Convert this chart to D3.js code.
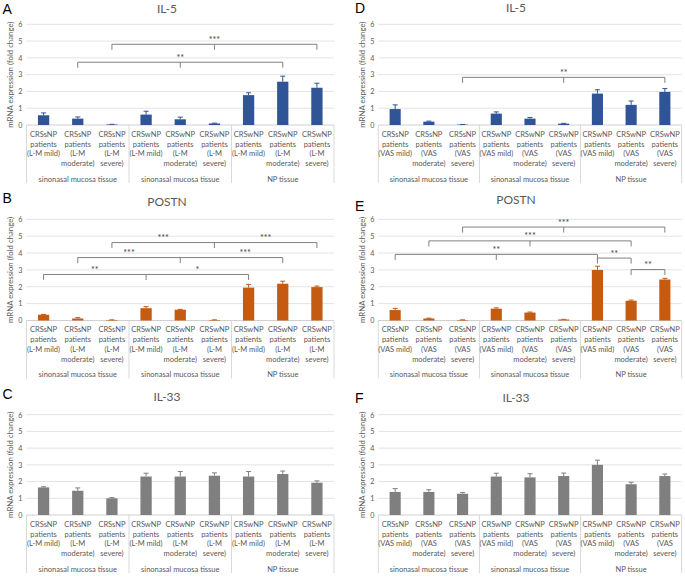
<!DOCTYPE html>
<html><head><meta charset="utf-8">
<script src="https://cdn.jsdelivr.net/npm/d3@7"></script>
<style>body{margin:0;background:#fff}svg{display:block}</style>
</head><body><svg id="c" width="685" height="577"></svg>
<script>
// ---------- data ----------
const lmCategories = [
  "CRSsNP\npatients\n(L-M mild)", "CRSsNP\npatients\n(L-M\nmoderate)", "CRSsNP\npatients\n(L-M\nsevere)",
  "CRSwNP\npatients\n(L-M mild)", "CRSwNP\npatients\n(L-M\nmoderate)", "CRSwNP\npatients\n(L-M\nsevere)",
  "CRSwNP\npatients\n(L-M mild)", "CRSwNP\npatients\n(L-M\nmoderate)", "CRSwNP\npatients\n(L-M\nsevere)"
];
const vasCategories = [
  "CRSsNP\npatients\n(VAS mild)", "CRSsNP\npatients\n(VAS\nmoderate)", "CRSsNP\npatients\n(VAS\nsevere)",
  "CRSwNP\npatients\n(VAS mild)", "CRSwNP\npatients\n(VAS\nmoderate)", "CRSwNP\npatients\n(VAS\nsevere)",
  "CRSwNP\npatients\n(VAS mild)", "CRSwNP\npatients\n(VAS\nmoderate)", "CRSwNP\npatients\n(VAS\nsevere)"
];
const groupLabels = ["sinonasal mucosa tissue", "sinonasal mucosa tissue", "NP tissue"];
const yTicks = [0, 1, 2, 3, 4, 5, 6];
const yAxisTitle = "mRNA expression (fold change)";

const valuesA = [0.58, 0.38, 0.03, 0.62, 0.34, 0.09, 1.78, 2.58, 2.22];
const errorsA = [0.14, 0.10, 0.01, 0.20, 0.13, 0.02, 0.14, 0.33, 0.27];
const valuesB = [0.34, 0.12, 0.03, 0.73, 0.64, 0.03, 1.95, 2.18, 1.98];
const errorsB = [0.02, 0.05, 0.01, 0.09, 0.02, 0.01, 0.19, 0.15, 0.06];
const valuesC = [1.65, 1.45, 1.00, 2.30, 2.30, 2.35, 2.30, 2.45, 1.93];
const errorsC = [0.04, 0.17, 0.04, 0.20, 0.30, 0.17, 0.30, 0.18, 0.11];
const valuesD = [0.95, 0.20, 0.02, 0.68, 0.38, 0.08, 1.87, 1.20, 1.97];
const errorsD = [0.25, 0.03, 0.01, 0.10, 0.07, 0.02, 0.23, 0.23, 0.20];
const valuesE = [0.62, 0.12, 0.03, 0.70, 0.47, 0.06, 3.00, 1.17, 2.43];
const errorsE = [0.10, 0.02, 0.01, 0.05, 0.03, 0.01, 0.22, 0.04, 0.07];
const valuesF = [1.38, 1.38, 1.27, 2.30, 2.25, 2.33, 3.00, 1.84, 2.33];
const errorsF = [0.20, 0.13, 0.07, 0.20, 0.22, 0.18, 0.28, 0.12, 0.12];

// significance brackets: categories joined, height in data units, labels at category positions
const bracketsA = [
  {cats: [1, 4, 7], level: 3.74, labels: [{at: 4, text: "**"}]},
  {cats: [2, 5, 8], level: 4.81, labels: [{at: 5, text: "***"}]}
];
const bracketsB = [
  {cats: [0, 3, 6], level: 2.73, labels: [{at: 1.5, text: "**"}, {at: 4.5, text: "*"}]},
  {cats: [1, 4, 7], level: 3.73, labels: [{at: 2.5, text: "***"}, {at: 5.9, text: "***"}]},
  {cats: [2, 5, 8], level: 4.62, labels: [{at: 3.5, text: "***"}, {at: 6.5, text: "***"}]}
];
const bracketsC = [];
const bracketsD = [
  {cats: [2, 5, 8], level: 2.84, labels: [{at: 5, text: "**"}]}
];
const bracketsE = [
  {cats: [0, 3, 6], level: 3.92, labels: [{at: 3, text: "**"}]},
  {cats: [1, 4, 7], level: 4.72, labels: [{at: 4, text: "***"}]},
  {cats: [2, 5, 8], level: 5.54, labels: [{at: 5, text: "***"}]},
  {cats: [6, 7], level: 3.70, labels: [{at: 6.5, text: "**"}]},
  {cats: [7, 8], level: 3.02, labels: [{at: 7.5, text: "**"}]}
];
const bracketsF = [];

const colorIL5 = "#2f5597", colorPOSTN = "#c55a11", colorIL33 = "#7f7f7f";

const panels = [
  {letter: "A", title: "IL-5",  cats: lmCategories,  values: valuesA, errors: errorsA, brackets: bracketsA, color: colorIL5,   col: 0, row: 0},
  {letter: "B", title: "POSTN", cats: lmCategories,  values: valuesB, errors: errorsB, brackets: bracketsB, color: colorPOSTN, col: 0, row: 1},
  {letter: "C", title: "IL-33", cats: lmCategories,  values: valuesC, errors: errorsC, brackets: bracketsC, color: colorIL33,  col: 0, row: 2},
  {letter: "D", title: "IL-5",  cats: vasCategories, values: valuesD, errors: errorsD, brackets: bracketsD, color: colorIL5,   col: 1, row: 0},
  {letter: "E", title: "POSTN", cats: vasCategories, values: valuesE, errors: errorsE, brackets: bracketsE, color: colorPOSTN, col: 1, row: 1},
  {letter: "F", title: "IL-33", cats: vasCategories, values: valuesF, errors: errorsF, brackets: bracketsF, color: colorIL33,  col: 1, row: 2}
];

// ---------- layout ----------
const cols = [
  {l: 26.5, r: 334, titleX: 167, yTitleX: 11.5, letterX: 2.5},
  {l: 378.3, r: 681.7, titleX: 516, yTitleX: 363.5, letterX: 355}
];
const rows = [
  {y6: 24.3, y0: 125},
  {y6: 219.3, y0: 320.5},
  {y6: 414.7, y0: 515}
];
const letterY = {A: 13.5, B: 203, C: 399, D: 13, E: 210.5, F: 402.5};
const titleY  = {A: 12.5, B: 206, C: 400.5, D: 12, E: 203.5, F: 401.5};

const FONT = "Lato, 'Open Sans', sans-serif";
const TXT = "#595959";
const svg = d3.select("#c");

panels.forEach(p => {
  const c = cols[p.col], r = rows[p.row];
  const g = svg.append("g");
  const x = d3.scaleBand().domain(d3.range(p.values.length)).range([c.l, c.r]).paddingInner(0).paddingOuter(0);
  const y = d3.scaleLinear().domain([0, 6]).range([r.y0, r.y6]);
  const bw = x.bandwidth();
  const cx = i => x(Math.floor(i)) + (i - Math.floor(i) + 0.5) * bw;

  // letter & title
  g.append("text").attr("x", c.letterX).attr("y", letterY[p.letter])
    .attr("font-family", "'Liberation Sans', Arial, sans-serif").attr("font-size", 14).attr("fill", "#000").text(p.letter);
  g.append("text").attr("x", c.titleX).attr("y", titleY[p.letter]).attr("text-anchor", "middle")
    .attr("font-family", FONT).attr("font-size", 12).attr("fill", TXT).text(p.title);

  // gridlines
  g.append("g").selectAll("line").data(yTicks.filter(t => t > 0)).join("line")
    .attr("x1", c.l).attr("x2", c.r).attr("y1", d => y(d)).attr("y2", d => y(d))
    .attr("stroke", "#e3e3e3").attr("stroke-width", 1);

  // y axis labels
  const yAxis = d3.axisLeft(y).tickValues(yTicks).tickSize(0).tickPadding(4).tickFormat(d3.format("d"));
  const ya = g.append("g").attr("transform", `translate(${c.l},0)`).call(yAxis);
  ya.select(".domain").remove();
  ya.selectAll("text").attr("font-family", FONT).attr("font-size", 7.2).attr("fill", TXT);

  // y axis title
  g.append("text").attr("transform", `translate(${c.yTitleX},${(r.y0 + r.y6) / 2}) rotate(-90)`)
    .attr("text-anchor", "middle").attr("dominant-baseline", "middle")
    .attr("font-family", FONT).attr("font-size", 7.8).attr("fill", TXT).text(yAxisTitle);

  // category axis line
  g.append("line").attr("x1", c.l).attr("x2", c.r).attr("y1", r.y0).attr("y2", r.y0)
    .attr("stroke", "#d0d0d0").attr("stroke-width", 1);
  // group separators
  const seps = [0, 3, 6, 9];
  g.append("g").selectAll("line").data(seps).join("line")
    .attr("x1", d => c.l + d * bw).attr("x2", d => c.l + d * bw)
    .attr("y1", r.y0).attr("y2", r.y0 + 58)
    .attr("stroke", "#d9d9d9").attr("stroke-width", 1);

  // category labels
  const cl = g.append("g").selectAll("text").data(p.cats).join("text")
    .attr("text-anchor", "middle").attr("font-family", FONT).attr("font-size", 7.5).attr("fill", TXT);
  cl.each(function(d, i) {
    const t = d3.select(this);
    d.split("\n").forEach((line, k) => {
      t.append("tspan").attr("x", cx(i)).attr("y", r.y0 + 11.8 + k * 9.8).text(line);
    });
  });
  // group labels
  g.append("g").selectAll("text").data(groupLabels).join("text")
    .attr("x", (d, i) => c.l + (i * 3 + 1.5) * bw).attr("y", r.y0 + 56.5)
    .attr("text-anchor", "middle").attr("font-family", FONT).attr("font-size", 7.5).attr("fill", TXT).text(d => d);

  // bars
  const barW = bw * 0.33;
  g.append("g").selectAll("rect").data(p.values).join("rect")
    .attr("x", (d, i) => cx(i) - barW / 2).attr("width", barW)
    .attr("y", d => y(d)).attr("height", d => y(0) - y(d))
    .attr("fill", p.color);

  // error bars (upper only)
  const eb = g.append("g").attr("stroke", p.color).attr("stroke-width", 1);
  p.values.forEach((v, i) => {
    const e = p.errors[i];
    eb.append("line").attr("x1", cx(i)).attr("x2", cx(i)).attr("y1", y(v)).attr("y2", y(v + e));
    eb.append("line").attr("x1", cx(i) - 2.5).attr("x2", cx(i) + 2.5).attr("y1", y(v + e)).attr("y2", y(v + e));
  });

  // significance brackets
  const bg = g.append("g");
  p.brackets.forEach(b => {
    const yl = y(b.level);
    const x0 = cx(b.cats[0]), x1 = cx(b.cats[b.cats.length - 1]);
    bg.append("line").attr("x1", x0).attr("x2", x1).attr("y1", yl).attr("y2", yl)
      .attr("stroke", "#808080").attr("stroke-width", 1);
    b.cats.forEach(ci => {
      bg.append("line").attr("x1", cx(ci)).attr("x2", cx(ci)).attr("y1", yl).attr("y2", yl + 5.5)
        .attr("stroke", "#808080").attr("stroke-width", 1);
    });
    b.labels.forEach(lb => {
      bg.append("text").attr("x", cx(lb.at)).attr("y", yl - 1.5).attr("text-anchor", "middle")
        .attr("font-family", FONT).attr("font-size", 9).attr("fill", "#404040").text(lb.text);
    });
  });
});
</script>
</body></html>
